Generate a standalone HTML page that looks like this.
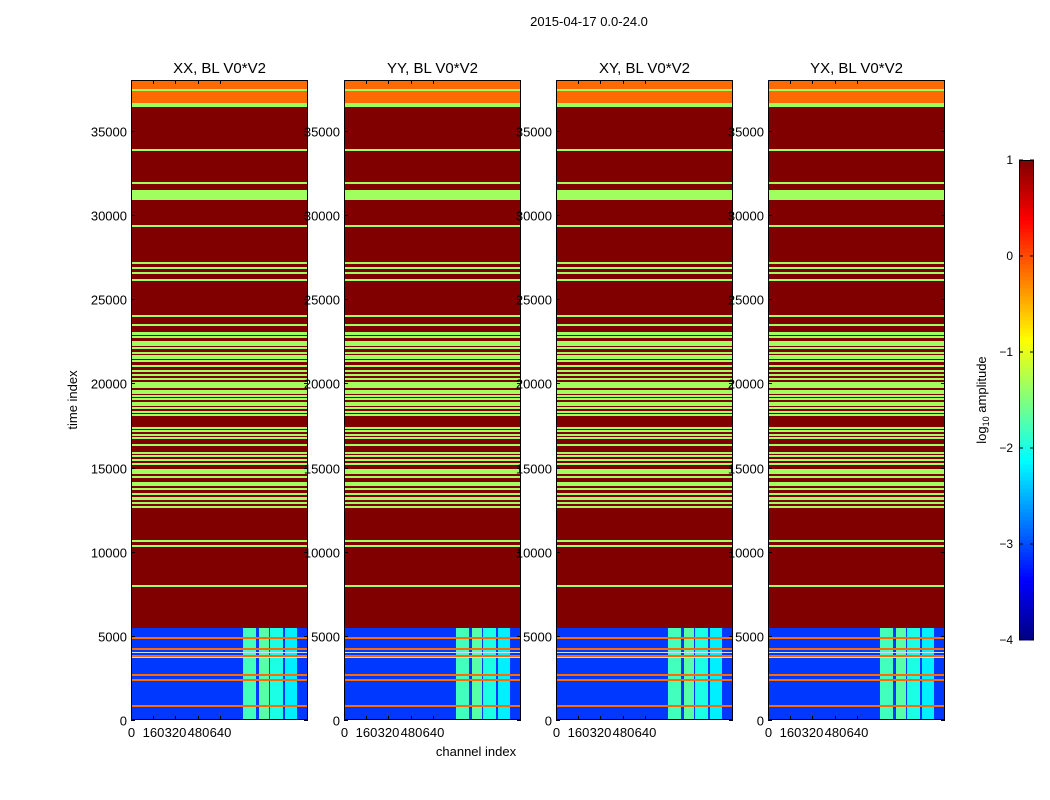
<!DOCTYPE html>
<html><head><meta charset="utf-8"><style>
body{margin:0;background:#fff}
svg{display:block;font-family:"Liberation Sans",sans-serif}
</style></head><body>
<svg id="fig" width="1050" height="800" viewBox="0 0 1050 800">
<text x="589" y="26" font-size="13" text-anchor="middle">2015-04-17 0.0-24.0</text>
<text x="77" y="400" font-size="13" text-anchor="middle" transform="rotate(-90 77 400)">time index</text>
<text x="476" y="756" font-size="13" text-anchor="middle">channel index</text>
<g id="panels"></g>
<g id="cbar"></g>
</svg>
<script>
const panelTitles = ["XX, BL V0*V2","YY, BL V0*V2","XY, BL V0*V2","YX, BL V0*V2"];
const xTicks = [0,160,320,480,640];
const yTicks = [0,5000,10000,15000,20000,25000,30000,35000];
const cbTicks = [1,0,-1,-2,-3,-4];
// background value of upper region (log10 amplitude)
const upperValue = 1.0;
const lowerValue = -3.1;
const lowerTop = 5470;
// horizontal bands: [tStart, tEnd, value]
const bands = [
 [36650,38050,-0.15],[37390,37480,-1.34],[36420,36650,-1.34],
 [33830,33910,-1.34],[31870,31950,-1.34],[30900,31490,-1.34],[29310,29390,-1.34],
 [27120,27190,-1.34],[26860,26930,-1.34],[26580,26650,-1.34],[26110,26190,-1.34],
 [23970,24040,-1.34],[23430,23510,-1.34],[22870,23060,-1.34],[22720,22800,-1.34],
 [22220,22520,-1.34],[22070,22140,-1.34],[21800,21880,-1.34],[21590,21670,-1.34],
 [21470,21550,-1.34],[21290,21370,-1.34],[21000,21070,-1.34],[20700,20780,-1.34],
 [20460,20540,-1.34],[20220,20300,-1.34],[19990,20060,-1.34],[19870,19940,-1.34],
 [19750,19820,-1.34],[19370,19610,-1.34],[19210,19290,-1.34],[19040,19110,-1.34],
 [18660,18900,-1.34],[18500,18580,-1.34],[18260,18340,-1.34],[18090,18160,-1.34],
 [17310,17390,-1.34],[17130,17210,-1.34],[16900,16970,-1.34],[16720,16790,-1.34],
 [16300,16380,-1.34],[15830,15900,-1.34],[15650,15720,-1.34],[15410,15490,-1.34],
 [15170,15250,-1.34],[14740,14915,-1.34],[14640,14710,-1.34],[14400,14480,-1.34],
 [14050,14120,-1.34],[13930,14000,-1.34],[13690,13760,-1.34],[13390,13470,-1.34],
 [13072,13250,-1.34],[12860,12930,-1.34],[12620,12690,-1.34],
 [10600,10670,-1.34],[10300,10380,-1.34],[7920,8000,-1.34]
];
// bright channel columns in lower region: [chStart, chEnd, value]
const columns = [[804,896,-1.8],[920,990,-1.7],[1000,1090,-2.0],[1105,1190,-2.2]];
// lines in the lower region: [tStart, tEnd, value]
const lowerLines = [[4830,4910,-0.15],[4180,4260,-0.15],[3760,3840,-0.15],[2630,2710,-0.15],[2340,2420,-0.15],[790,870,-0.15]];
// faint light lines in lower region: [tStart, tEnd]
const faintLines = [[3700,3750],[4000,4040]];

const NS="http://www.w3.org/2000/svg";
const xMax=1273, tMax=38030;
const panelX=[131,344,556,768], panelW=177, pTop=80, pBot=720;
function jet(v){let f=(v+4)/5;f=Math.max(0,Math.min(1,f));
 const c=x=>Math.round(255*Math.max(0,Math.min(1,1.5-Math.abs(x))));
 return `rgb(${c(4*f-3)},${c(4*f-2)},${c(4*f-1)})`;}
function mk(tag,attrs,parent){const e=document.createElementNS(NS,tag);for(const k in attrs)e.setAttribute(k,attrs[k]);parent.appendChild(e);return e;}
const yS=t=>pBot-(t/tMax)*(pBot-pTop);
const panelRoot=document.getElementById('panels');
const labelLayer=mk('g',{},document.getElementById('fig'));
panelX.forEach((px,pi)=>{
 const xS=c=>px+c/xMax*panelW;
 const g=mk('g',{'shape-rendering':'crispEdges'},panelRoot);
 
 
 const upR=mk('rect',{x:px,y:pTop,width:panelW,height:Math.round(yS(lowerTop))-pTop,fill:jet(upperValue)},g);
 
 
 const lo=mk('rect',{x:px,y:Math.round(yS(lowerTop)),width:panelW,height:pBot-Math.round(yS(lowerTop)),fill:jet(lowerValue)},g);
 
 
 columns.forEach(c=>{const r=mk('rect',{x:Math.round(xS(c[0])),y:Math.round(yS(lowerTop)),width:Math.round(xS(c[1])-xS(c[0])),height:pBot-Math.round(yS(lowerTop)),fill:jet(c[2])},g);
  
  });
 faintLines.forEach(b=>{const yy=Math.round(yS(b[1]));
  const r=mk('rect',{x:px,y:yy,width:panelW,height:1,fill:'#c8e0ff'},g);
  
  });
 bands.concat(lowerLines).forEach(b=>{const y1=yS(b[1]),y2=yS(b[0]);
  const yy=Math.round(Math.max(pTop,y1));
  const r=mk('rect',{x:px,y:yy,width:panelW,height:Math.max(2,Math.round(y2-yy)),fill:jet(b[2])},g);
  
  });
 const fr=mk('rect',{x:px+0.5,y:pTop+0.5,width:panelW-1,height:pBot-pTop-1,fill:'none',stroke:'#000'},g);
 
 
 const tt=mk('text',{x:px+panelW/2,y:73,'font-size':15,'text-anchor':'middle'},labelLayer);
 tt.textContent=panelTitles[pi];
 
 
 xTicks.forEach(v=>{const x=Math.round(xS(v))+0.5;
  mk('line',{x1:x,x2:x,y1:pBot,y2:pBot-4,stroke:'#000'},g);
  mk('line',{x1:x,x2:x,y1:pTop,y2:pTop+4,stroke:'#000'},g);
  const t=mk('text',{x:x,y:737,'font-size':13,'text-anchor':'middle'},labelLayer);t.textContent=v;
  
  });
 yTicks.forEach(v=>{const y=Math.round(yS(v))+0.5;
  mk('line',{x1:px,x2:px+4,y1:y,y2:y,stroke:'#000'},g);
  mk('line',{x1:px+panelW,x2:px+panelW-4,y1:y,y2:y,stroke:'#000'},g);
  const t=mk('text',{x:px-4,y:y+5,'font-size':13,'text-anchor':'end'},labelLayer);t.textContent=v;
  
  });
});
// colorbar
const cb=document.getElementById('cbar');
const cbX=1019,cbW=15,cbT=160,cbB=640;
const cs=v=>cbB-(v+4)/5*(cbB-cbT);
for(let i=0;i<120;i++){const v=-4+5*(i+0.5)/120;
 mk('rect',{x:cbX,y:cs(-4+5*(i+1)/120),width:cbW,height:(cbB-cbT)/120+0.6,fill:jet(v),'shape-rendering':'crispEdges'},cb);}
mk('rect',{x:cbX+0.5,y:cbT+0.5,width:cbW-1,height:cbB-cbT-1,fill:'none',stroke:'#000'},cb);
cbTicks.forEach(v=>{const y=cs(v);
 mk('line',{x1:cbX,x2:cbX+4,y1:y,y2:y,stroke:'#000'},cb);
 mk('line',{x1:cbX+cbW,x2:cbX+cbW-4,y1:y,y2:y,stroke:'#000'},cb);
 const t=mk('text',{x:1013,y:y+4,'font-size':12,'text-anchor':'end'},cb);t.textContent=v<0?'\u2212'+(-v):v;
 
 });
const cl=mk('text',{x:986,y:400,'font-size':13,'text-anchor':'middle',transform:'rotate(-90 986 400)'},cb);
cl.innerHTML='log<tspan font-size="9" dy="3">10</tspan><tspan dy="-3"> amplitude</tspan>';


</script>
</body></html>
